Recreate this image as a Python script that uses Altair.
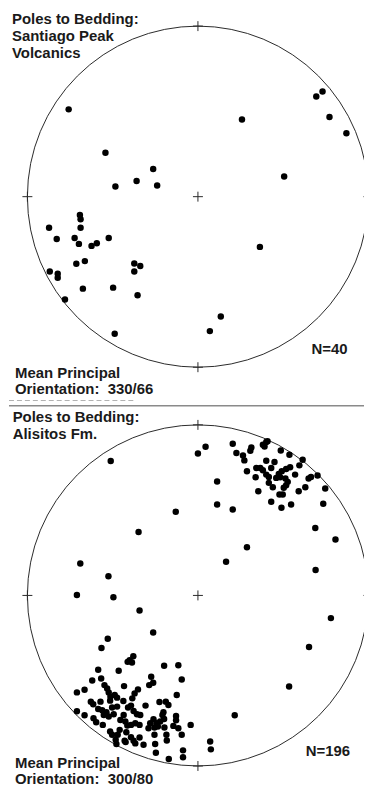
import altair as alt
import pandas as pd

# ---------------- data (projection units; primitive circle radius = 171.5) ----------------
R = 171.5

# Santiago Peak Volcanics: poles to bedding (east, north)
top_east = [-130, -93, -45, -61.7, -41, -83, -118.7, -118, -149.7, -118, -142, -124, -119.7,
            -107, -101.7, -89.7, -122.3, -113.7, -64, -58, -64, -149, -141, -141, -115.7,
            -85.3, -60.7, -133.7, -83.7, 125.3, 119, 44.3, 132.3, 149.3, 86.7, 62.3, 23, 12]
top_north = [87.8, 44.2, 27.8, 15.8, 11.2, 10.2, -18.5, -22.8, -31.2, -31.2, -42.5, -41.5, -47.5,
             -49.5, -46.8, -41.5, -67.5, -64.8, -67.2, -69.8, -75.2, -75.2, -77.5, -81.5, -92.5,
             -91.5, -99.2, -103.5, -137.8, 105.8, 100.8, 77.5, 80.2, 63.8, 20.2, -50.5, -120.5, -135.2]

# Alisitos Fm.: NE cluster
ne_east = [70, 68.7, 65.3, 67, 53.7, 52.7, 45.3, 46.7, 83.3, 92, 68.7, 77, 105.3, 102, 58.7, 62.7,
           65.3, 73.7, 49.3, 68.7, 71.3, 81.3, 84.3, 88.7, 92.7, 58, 97.7, 78.7, 82.7, 88, 90.3,
           88.7, 111.3, 113.7, 120.3, 71.3, 75.3, 86.3, 60.7, 101.3, 108, 128, 82, 85.3, 73.7,
           93.7, 84, 126, 118, 35, 38.7]
ne_north = [155, 154.2, 151.5, 149.8, 148.8, 145.5, 140.8, 135.8, 145.8, 141.5, 135.5, 134.2, 136.5,
            130.8, 128.2, 128.2, 125.8, 128.2, 124.8, 121.5, 119.2, 122.2, 124.8, 127.2, 128.8,
            118.8, 121.5, 118.2, 118.8, 117.5, 114.2, 110.8, 117.5, 119.2, 120.5, 113.2, 108.8,
            108.2, 104.8, 104.8, 108.8, 107.5, 101.5, 101.5, 94.2, 91.5, 88.2, 92.2, 67.8, 152.5, 143.2]

# Alisitos Fm.: scattered poles
sc_east = [-87.7, 0, 7.7, 19.3, 19.3, 35, -22.3, -59.7, 138.3, 49.3, 28.3, 118.3, -118.3, -90,
           -121.7, -85, -58.7, -45, -90.7, -97, 133.7, 111.7, 91.7, 37, 12.3, 13]
sc_north = [135.2, 142.8, 149.5, 114.5, 91.5, 86.5, 84.2, 63.8, 56.2, 48.5, 33.8, 25.5, 32.2, 19.2,
            0.5, -1.8, -15.2, -37.2, -43.5, -52.8, -22.8, -51.8, -91.5, -120.5, -146.8, -154.8]

# Alisitos Fm.: SW cluster
sw_east = [-65, -68.7, -66.3, -70.7, -34, -19.7, -100.3, -79.7, -106.3, -97.3, -47, -49, -45, -16.3,
           -94, -74.3, -121.7, -114, -91.3, -89.7, -88, -83.7, -60.3, -63.7, -66, -21.3, -107.7,
           -105.3, -98, -88.3, -81.3, -75, -38.7, -32.3, -29.7, -52.7, -100.3, -96.3, -92, -86.3,
           -81.3, -70.3, -67.3, -64.7, -61.3, -58, -121.7, -114, -105, -102.3, -95.7, -89.7, -84.7,
           -74.7, -73, -71, -67.3, -63, -58.7, -44.7, -41.7, -38, -35.7, -34, -34.7, -40.3, -43.7,
           -33.7, -22, -22, -24.7, -19.7, -16.3, -7.3, -88.3, -86.3, -78.7, -72, -67.3, -64.7, -63,
           -58.7, -54.7, -43.7, -43, -42.3, -31.7, -31.3, -15, -15, -29.3, -82.7, -82, -73.7, -72.7,
           -80.7, -94.7, -78, -49.7, -48]
sw_north = [-61.2, -65.2, -67.5, -66.8, -70.8, -70.2, -74.8, -75.8, -85.5, -83.5, -81.8, -90.2, -87.8,
            -84.5, -90.2, -91.2, -97.5, -94.8, -93.5, -97.5, -101.8, -100.2, -94.5, -98.5, -103.5,
            -100.2, -106.8, -109.5, -106.8, -105.8, -102.8, -106.2, -107.2, -106.8, -110.2, -110.8,
            -114.2, -115.5, -117.5, -112.8, -111.8, -112.8, -110.8, -116.2, -119.5, -120.2, -116.5,
            -120.5, -123.5, -127.5, -130.2, -121.8, -119.5, -120.2, -126.8, -130.8, -130.2, -128.5,
            -130.2, -124.5, -128.5, -126.8, -120.2, -124.2, -117.5, -131.8, -132.8, -132.8, -121.2,
            -125.5, -131.2, -133.5, -140.2, -130.2, -136.8, -140.2, -135.2, -137.5, -142.5, -146.2,
            -148.8, -142.8, -150.2, -140.2, -149.5, -158.2, -140.2, -145.8, -155.8, -162.8, -164.5,
            -145.2, -149.5, -146.2, -147.5, -140.2, -120.2, -125.2, -133.5, -128.5]

NBSP = "\u00a0"
top_title = ["Poles to Bedding:", "Santiago Peak", "Volcanics"]
bot_title = ["Poles to Bedding:", "Alisitos Fm."]
top_mean = ["Mean Principal", "Orientation:" + NBSP + " 330/66"]
bot_mean = ["Mean Principal", "Orientation:" + NBSP + " 300/80"]
top_n = "N=40"
bot_n = "N=196"

FONT = "Liberation Sans"
INK = "#1a1a1a"

top_df = pd.DataFrame({"east": top_east, "north": top_north})
bot_df = pd.DataFrame({"east": ne_east + sc_east + sw_east,
                       "north": ne_north + sc_north + sw_north})
ticks_df = pd.DataFrame({"east": [0, 0, R, -R, 0], "north": [R, -R, 0, 0, 0]})
center_df = pd.DataFrame({"east": [0], "north": [0]})
one = pd.DataFrame({"k": [0]})

W = 357  # fits inside the 373px window with its 8px margins


def label(text, x, y, align="left"):
    return alt.Chart(one).mark_text(
        text=text, font=FONT, fontSize=15, fontWeight="bold", color=INK,
        align=align, baseline="alphabetic"
    ).encode(x=alt.value(x), y=alt.value(y))


def panel(df, height, cy_px, titles, mean_lines, ntext, n_xy, title_xy, mean_y, top_sep, bottom_sep):
    xs = alt.Scale(domain=[-190, W - 190], nice=False, zero=False)
    ys = alt.Scale(domain=[cy_px - height, cy_px], nice=False, zero=False)
    enc = dict(x=alt.X("east:Q", scale=xs, axis=None), y=alt.Y("north:Q", scale=ys, axis=None))

    circle = alt.Chart(center_df).mark_point(
        shape="circle", size=(2 * R) ** 2, filled=False, stroke="#2a2a2a",
        strokeWidth=1, opacity=1, clip=True
    ).encode(**enc)
    ticks = alt.Chart(ticks_df).mark_point(
        shape="M-1,0L1,0M0,-1L0,1", size=100, filled=False, stroke="#2a2a2a",
        strokeWidth=1, opacity=1, clip=True
    ).encode(**enc)
    pts = alt.Chart(df).mark_circle(size=42, color="black", opacity=1, clip=True).encode(**enc)

    layers = [circle, ticks, pts]
    for i, t in enumerate(titles):
        layers.append(label(t, title_xy[0], title_xy[1] + 17 * i))
    for i, t in enumerate(mean_lines):
        layers.append(label(t, 6, mean_y + 16.6 * i))
    layers.append(label(ntext, n_xy[0], n_xy[1], align="right"))
    if top_sep:
        layers.append(alt.Chart(one).mark_rule(color="#8a8a8a", strokeWidth=1.5).encode(
            x=alt.value(0), x2=alt.value(W), y=alt.value(0.8)))
    if bottom_sep:
        layers.append(alt.Chart(one).mark_rule(
            color=bottom_sep[3], strokeWidth=1, strokeDash=[5, 3]).encode(
            x=alt.value(bottom_sep[0]), x2=alt.value(bottom_sep[1]), y=alt.value(bottom_sep[2])))
    return alt.layer(*layers).properties(width=W, height=height)


top = panel(top_df, 397, 187.5, top_title, top_mean, top_n, (340.5, 345.3),
            (3, 13.8), 369.5, False, (0, 125, 392.5, "#b0b0b0"))
bot = panel(bot_df, 394, 191.5, bot_title, bot_mean, bot_n, (343, 352.7),
            (3.7, 17), 364.8, True, None)

chart = alt.vconcat(top, bot, spacing=0, bounds="flush").properties(
    padding=0
).configure_view(stroke=None)

chart.save("out.html", embed_options={"renderer": "svg", "actions": False})
